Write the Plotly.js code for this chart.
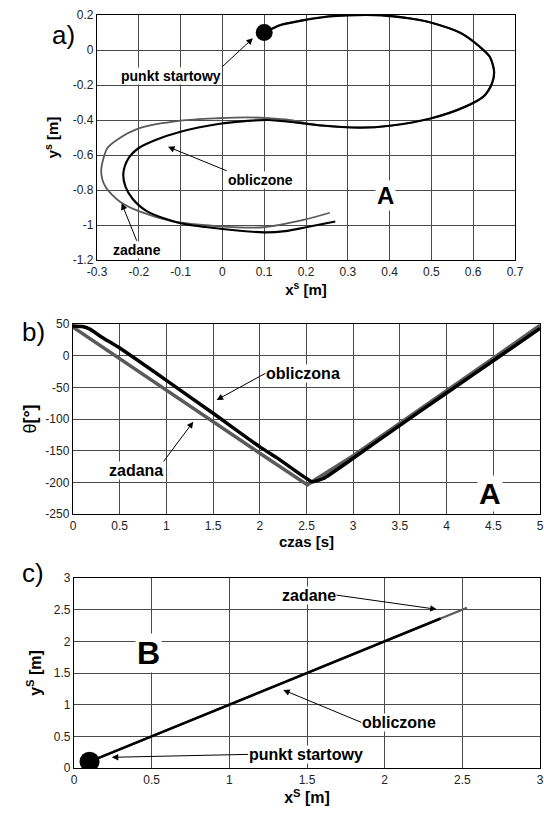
<!DOCTYPE html>
<html><head><meta charset="utf-8">
<script src="https://cdn.plot.ly/plotly-3.0.1.min.js"></script>
<style>html,body{margin:0;padding:0;background:#fff}#chart{width:544px;height:816px}</style>
</head><body><div id="chart"></div>
<script>
// Panel a: trajectory A (x^s, y^s)
const aZadaneX = [0.10,0.14,0.19,0.25,0.30,0.38,0.45,0.50,0.57,0.615,0.64,0.65,0.645,0.625,0.58,0.50,0.40,0.33,0.23,0.16,0.11,0.06,-0.01,-0.10,-0.20,-0.25,-0.275,-0.29,-0.28,-0.245,-0.197,-0.117,-0.014,0.098,0.194,0.257];
const aZadaneY = [0.10,0.145,0.17,0.192,0.20,0.20,0.18,0.156,0.097,0.02,-0.04,-0.125,-0.19,-0.265,-0.325,-0.39,-0.433,-0.444,-0.43,-0.40,-0.39,-0.385,-0.39,-0.404,-0.448,-0.51,-0.56,-0.69,-0.78,-0.867,-0.924,-0.98,-1.006,-1.013,-0.971,-0.93];
const aOblX = [0.10,0.14,0.19,0.25,0.30,0.38,0.45,0.50,0.57,0.615,0.64,0.65,0.645,0.625,0.58,0.50,0.40,0.33,0.23,0.16,0.11,0.06,-0.01,-0.10,-0.16,-0.20,-0.225,-0.237,-0.232,-0.215,-0.18,-0.10,-0.01,0.10,0.15,0.20,0.27];
const aOblY = [0.10,0.143,0.168,0.19,0.198,0.198,0.18,0.156,0.097,0.02,-0.04,-0.125,-0.19,-0.265,-0.325,-0.39,-0.433,-0.444,-0.43,-0.41,-0.40,-0.405,-0.423,-0.467,-0.514,-0.56,-0.62,-0.705,-0.78,-0.85,-0.922,-0.99,-1.02,-1.042,-1.035,-1.013,-0.98];
const aStart = {x:[0.1], y:[0.1]};
const aXTicks = [-0.3,-0.2,-0.1,0,0.1,0.2,0.3,0.4,0.5,0.6,0.7];
const aXTickText = ["-0.3","-0.2","-0.1","0","0.1","0.2","0.3","0.4","0.5","0.6","0.7"];
const aYTicks = [-1.2,-1,-0.8,-0.6,-0.4,-0.2,0,0.2];
const aYTickText = ["-1.2","-1","-0.8","-0.6","-0.4","-0.2","0","0.2"];

// Panel b: theta vs time
const bZadanaT = [0,0.5,1,1.5,2,2.51,2.6,3,3.5,4,4.5,5];
const bZadanaY = [45,-5,-55,-104,-154,-204,-195,-158,-107,-55,-4,48];
const bOblT = [0,0.1,0.18,0.3,0.5,1.0,1.5,2.0,2.2,2.47,2.56,2.68,3.0,3.5,4.0,4.5,5.0];
const bOblY = [47,46,42,30,12,-39,-91,-144,-163,-191,-199,-194,-162,-110,-59,-8,43];
const bXTicks = [0,0.5,1,1.5,2,2.5,3,3.5,4,4.5,5];
const bXTickText = ["0","0.5","1","1.5","2","2.5","3","3.5","4","4.5","5"];
const bYTicks = [-250,-200,-150,-100,-50,0,50];
const bYTickText = ["-250","-200","-150","-100","-50","0","50"];

// Panel c: trajectory B
const cZadaneX = [0.1,0.5,1.0,1.5,2.0,2.53];
const cZadaneY = [0.1,0.5,1.0,1.5,2.0,2.53];
const cOblX = [0.1,0.5,1.0,1.5,2.0,2.36];
const cOblY = [0.1,0.5,1.0,1.5,2.0,2.36];
const cStart = {x:[0.1], y:[0.1]};
const cTicks = [0,0.5,1,1.5,2,2.5,3];
const cTickText = ["0","0.5","1","1.5","2","2.5","3"];

const FONT = "Liberation Sans, Arial, sans-serif";
const GRAY = "#5a5a5a";

const traces = [
  {x:aZadaneX, y:aZadaneY, xaxis:'x', yaxis:'y', mode:'lines', line:{color:GRAY, width:1.8, shape:'spline', smoothing:0.8}, name:'zadane', hoverinfo:'skip'},
  {x:aOblX, y:aOblY, xaxis:'x', yaxis:'y', mode:'lines', line:{color:'#000', width:2.2, shape:'spline', smoothing:0.8}, name:'obliczone', hoverinfo:'skip'},
  {x:aStart.x, y:aStart.y, xaxis:'x', yaxis:'y', mode:'markers', marker:{color:'#000', size:17}, name:'start'},
  {x:bZadanaT, y:bZadanaY, xaxis:'x2', yaxis:'y2', mode:'lines', line:{color:GRAY, width:3.5}, name:'zadana'},
  {x:bOblT, y:bOblY, xaxis:'x2', yaxis:'y2', mode:'lines', line:{color:'#000', width:3.5, shape:'spline', smoothing:0.5}, name:'obliczona'},
  {x:cZadaneX, y:cZadaneY, xaxis:'x3', yaxis:'y3', mode:'lines', line:{color:GRAY, width:2.2}, name:'zadane'},
  {x:cOblX, y:cOblY, xaxis:'x3', yaxis:'y3', mode:'lines', line:{color:'#000', width:2.5}, name:'obliczone'},
  {x:cStart.x, y:cStart.y, xaxis:'x3', yaxis:'y3', mode:'markers', marker:{color:'#000', size:20}, name:'start'}
];

function ax(extra){
  return Object.assign({
    showgrid:true, gridcolor:'#4a4a4a', gridwidth:1,
    zeroline:false, showline:true, mirror:true, linecolor:'#000', linewidth:1.2,
    ticks:'', tickmode:'array', tickfont:{family:FONT, size:12, color:'#222'},
    fixedrange:true
  }, extra);
}

const tF = (s)=>({family:FONT, size:s, color:'#000'});

// label with arrow: text box anchored at tail (tx,ty) by (xa,ya); arrow to head (hx,hy)
function callout(xr, yr, text, size, tx, ty, xa, ya, hx, hy){
  return {xref:xr, yref:yr, axref:xr, ayref:yr, x:hx, y:hy, ax:tx, ay:ty, text:text,
          xanchor:xa, yanchor:ya, showarrow:true, font:tF(size), bgcolor:'#fff', borderpad:0,
          arrowhead:2, arrowsize:1.3, arrowwidth:1, arrowcolor:'#000', standoff:0, startstandoff:0};
}
function label(xr, yr, x, y, text, size){
  return {xref:xr, yref:yr, x:x, y:y, text:text, showarrow:false, font:tF(size), bgcolor:'#fff', borderpad:1};
}

const annotations = [
  // panel labels
  {xref:'paper', yref:'paper', x:50/544, y:1-18/816, text:'a)', showarrow:false, font:{family:FONT,size:26,color:'#000'}},
  {xref:'paper', yref:'paper', x:20/544, y:1-332/816, text:'b)', showarrow:false, font:{family:FONT,size:26,color:'#000'}},
  {xref:'paper', yref:'paper', x:20/544, y:1-590/816, text:'c)', showarrow:false, font:{family:FONT,size:26,color:'#000'}},
  // panel a
  callout('x','y','<b>punkt startowy</b>',14, 0.0, -0.095, 'right','top', 0.073, 0.067),
  callout('x','y','<b>obliczone</b>',14, 0.01, -0.69, 'left','top', -0.130, -0.553),
  callout('x','y','<b>zadane</b>',14, -0.205, -1.09, 'center','top', -0.241, -0.876),
  label('x','y',0.39,-0.83,'<b>A</b>',24),
  // panel b
  callout('x2','y2','<b>obliczona</b>',16, 2.06, -27.8, 'left','middle', 1.538, -70),
  callout('x2','y2','<b>zadana</b>',16, 0.97, -167, 'right','top', 1.288, -104.3),
  label('x2','y2',4.465,-217.3,'<b>A</b>',30),
  // panel c
  label('x3','y3',0.478,1.81,'<b>B</b>',32),
  callout('x3','y3','<b>zadane</b>',16, 1.69, 2.73, 'right','middle', 2.335, 2.506),
  callout('x3','y3','<b>obliczone</b>',16, 1.85, 0.72, 'left','middle', 1.347, 1.232),
  callout('x3','y3','<b>punkt startowy</b>',16, 1.12, 0.215, 'left','middle', 0.243, 0.169)
];

const layout = {
  width:544, height:816, margin:{l:0,r:0,t:0,b:0},
  paper_bgcolor:'#fff', plot_bgcolor:'#fff', showlegend:false,
  font:{family:FONT, color:'#000'},
  xaxis: ax({domain:[97/544, 515/544], anchor:'y', range:[-0.3,0.7], tickvals:aXTicks, ticktext:aXTickText,
             title:{text:'<b>x<sup>s</sup> [m]</b>', font:tF(15), standoff:6}}),
  yaxis: ax({domain:[1-260/816, 1-15/816], anchor:'x', range:[-1.2,0.2], tickvals:aYTicks, ticktext:aYTickText,
             title:{text:'<b>y<sup>s</sup> [m]</b>', font:tF(15), standoff:10}}),
  xaxis2: ax({domain:[73/544, 540/544], anchor:'y2', range:[0,5], tickvals:bXTicks, ticktext:bXTickText,
             title:{text:'<b>czas [s]</b>', font:tF(15), standoff:4}}),
  yaxis2: ax({domain:[1-514/816, 1-324/816], anchor:'x2', range:[-250,50], tickvals:bYTicks, ticktext:bYTickText,
             title:{text:'θ<b>[°]</b>', font:tF(18), standoff:4}}),
  xaxis3: ax({domain:[74/544, 540/544], anchor:'y3', range:[0,3], tickvals:cTicks, ticktext:cTickText,
             title:{text:'<b>x<sup>S</sup> [m]</b>', font:tF(16), standoff:4}}),
  yaxis3: ax({domain:[1-768/816, 1-578/816], anchor:'x3', range:[0,3], tickvals:cTicks, ticktext:cTickText,
             title:{text:'<b>y<sup>S</sup> [m]</b>', font:tF(16), standoff:8}}),
  annotations: annotations
};

Plotly.newPlot('chart', traces, layout, {staticPlot:true, displayModeBar:false});
</script></body></html>
